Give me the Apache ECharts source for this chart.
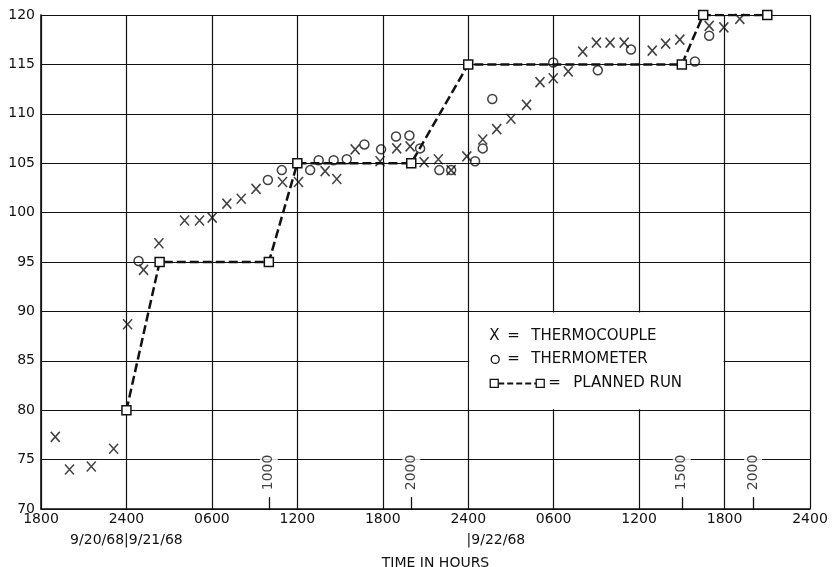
<!DOCTYPE html>
<html><head><meta charset="utf-8">
<script src="https://cdn.jsdelivr.net/npm/echarts@6/dist/echarts.min.js"></script>
<style>html,body{margin:0;padding:0;background:#fff}#c{width:833px;height:567px}</style>
</head><body><div id="c"></div>
<script>
// hours since 1800 on 9/20/68
const xTickLabels = ['1800','2400','0600','1200','1800','2400','0600','1200','1800','2400'];
const dateLabels = ['', '9/20/68|9/21/68', '', '', '', '|9/22/68', '', '', '', ''];

const thermocouple = [
  [1.0,77.3],[2.0,74.0],[3.53,74.3],[5.1,76.1],[6.08,88.7],[7.2,94.2],[8.28,96.9],
  [10.08,99.2],[11.13,99.2],[12.02,99.5],[13.05,100.9],[14.06,101.4],[15.1,102.4],
  [16.96,103.1],[18.08,103.1],[19.95,104.2],[20.77,103.4],[22.06,106.4],[23.81,105.2],
  [24.98,106.5],[25.92,106.7],[26.9,105.1],[27.9,105.4],[28.8,104.3],[29.9,105.7],
  [31.02,107.4],[32.0,108.45],[33.0,109.5],[34.1,110.9],[35.04,113.2],[35.97,113.6],
  [37.02,114.3],[38.04,116.3],[39.0,117.2],[39.96,117.2],[40.95,117.2],[42.92,116.4],
  [43.86,117.1],[44.86,117.5],[46.92,118.9],[47.95,118.75],[49.07,119.6]
];
const thermometer = [
  [6.85,95.1],[15.93,103.3],[16.91,104.3],[18.9,104.3],[19.5,105.3],[20.55,105.3],
  [21.47,105.4],[22.71,106.9],[23.88,106.4],[24.93,107.7],[25.87,107.8],[26.62,106.5],
  [27.97,104.3],[28.8,104.3],[30.48,105.2],[31.02,106.5],[31.69,111.5],[35.97,115.2],
  [39.1,114.4],[41.43,116.5],[45.92,115.3],[46.92,117.9],[48.53,120.3]
];
const plannedRun = [[6,80],[8.33,95],[16,95],[18,105],[26,105],[30,115],[45,115],[46.5,120],[51,120]];

const markHours = [16,26,45,50];
const markLabels = ['1000','2000','1500','2000'];
const legendTexts = ['THERMOCOUPLE','THERMOMETER','PLANNED RUN'];

const FONT = 'DejaVu Sans';
const INK = '#111';
const chart = echarts.init(document.getElementById('c'), null, {renderer:'canvas'});
const xSym = 'path://M0,0L9,10M9,0L0,10';

chart.setOption({
  animation: false,
  backgroundColor: '#fff',
  grid: {left: 41, right: 23, top: 15, bottom: 58, containLabel: false, outerBoundsMode: 'none'},
  xAxis: {
    type: 'value', min: 0, max: 54, interval: 6,
    axisLine: {show: true, lineStyle: {color: INK, width: 1.6}},
    axisTick: {show: false},
    splitLine: {show: true, lineStyle: {color: INK, width: 1.2}},
    axisLabel: {
      margin: 0, color: INK, fontSize: 14, fontFamily: FONT, lineHeight: 21,
      formatter: function (v) {
        const i = Math.round(v / 6);
        let s = xTickLabels[i] || '';
        const d = dateLabels[i];
        if (d) {
          s += d.charAt(0) === '|' ? '\n{r|' + d + '}' : '\n{c|' + d + '}';
        }
        return s;
      },
      rich: {
        c: {fontSize: 14, fontFamily: FONT, color: INK, lineHeight: 21},
        r: {fontSize: 14, fontFamily: FONT, color: INK, lineHeight: 21, width: 114, align: 'right'}
      }
    },
    name: 'TIME IN HOURS', nameLocation: 'middle', nameGap: 37,
    nameTextStyle: {color: INK, fontSize: 14, fontFamily: FONT, padding: [0, 0, 0, 20]}
  },
  yAxis: {
    type: 'value', min: 70, max: 120, interval: 5,
    axisLine: {show: true, lineStyle: {color: INK, width: 1.6}},
    axisTick: {show: false},
    splitLine: {show: true, lineStyle: {color: INK, width: 1.2}},
    axisLabel: {margin: 6, color: INK, fontSize: 14, fontFamily: FONT}
  },
  series: [
    {
      name: 'PLANNED RUN', type: 'line', data: plannedRun, z: 3,
      symbol: 'rect', symbolSize: 9, showAllSymbol: true,
      itemStyle: {color: '#fff', borderColor: INK, borderWidth: 1.5},
      lineStyle: {color: INK, width: 2.5, type: [9, 4]}
    },
    {
      name: 'THERMOCOUPLE', type: 'scatter', data: thermocouple, z: 4,
      symbol: xSym, symbolSize: [9, 10], symbolKeepAspect: false,
      itemStyle: {color: 'transparent', borderColor: INK, borderWidth: 1.6}
    },
    {
      name: 'THERMOMETER', type: 'scatter', data: thermometer, z: 4,
      symbol: 'circle', symbolSize: 9,
      itemStyle: {color: 'transparent', borderColor: INK, borderWidth: 1.5}
    },
    {
      name: 'clock marks', type: 'scatter', z: 5, silent: true,
      data: markHours.map((h, i) => ({value: [h, 73.7], name: markLabels[i]})),
      symbolSize: 0,
      label: {show: true, position: 'inside', rotate: 90, formatter: '{b}',
        backgroundColor: '#fff', padding: [2, 3], color: INK, fontSize: 14, fontFamily: FONT},
      markLine: {
        silent: true, symbol: ['none', 'none'], label: {show: false},
        lineStyle: {type: 'solid', color: INK, width: 1.3},
        data: markHours.map(h => [{coord: [h, 70]}, {coord: [h, 71.2]}])
      }
    }
  ]
});

// legend box placed in data region 30..48 h, 80..90
const p0 = chart.convertToPixel({gridIndex: 0}, [30, 90]);
const p1 = chart.convertToPixel({gridIndex: 0}, [48, 80]);
const bx = p0[0], by = p0[1];
const tStyle = (t, x, y) => ({type: 'text', x: x, y: y,
  style: {text: t, fill: INK, font: '15px "DejaVu Sans"', textVerticalAlign: 'middle', verticalAlign: 'middle'}});
chart.setOption({
  graphic: [{
    type: 'group', z: 100,
    children: [
      {type: 'rect', shape: {x: bx + 1, y: by + 1, width: p1[0] - bx - 2, height: p1[1] - by - 2},
        style: {fill: '#fff'}},
      tStyle('X', bx + 21, by + 25),
      tStyle('=', bx + 39, by + 25),
      tStyle(legendTexts[0], bx + 63, by + 25),
      {type: 'circle', shape: {cx: bx + 27, cy: by + 48, r: 4}, style: {fill: '#fff', stroke: INK, lineWidth: 1.3}},
      tStyle('=', bx + 39, by + 48),
      tStyle(legendTexts[1], bx + 63, by + 48),
      {type: 'line', shape: {x1: bx + 30, y1: by + 72, x2: bx + 68, y2: by + 72},
        style: {stroke: INK, lineWidth: 2, lineDash: [6, 3]}},
      {type: 'rect', shape: {x: bx + 22, y: by + 68, width: 8, height: 8}, style: {fill: '#fff', stroke: INK, lineWidth: 1.3}},
      {type: 'rect', shape: {x: bx + 68, y: by + 68, width: 8, height: 8}, style: {fill: '#fff', stroke: INK, lineWidth: 1.3}},
      tStyle('=', bx + 80, by + 72),
      tStyle(legendTexts[2], bx + 105, by + 72)
    ]
  }]
});
</script>
</body></html>
